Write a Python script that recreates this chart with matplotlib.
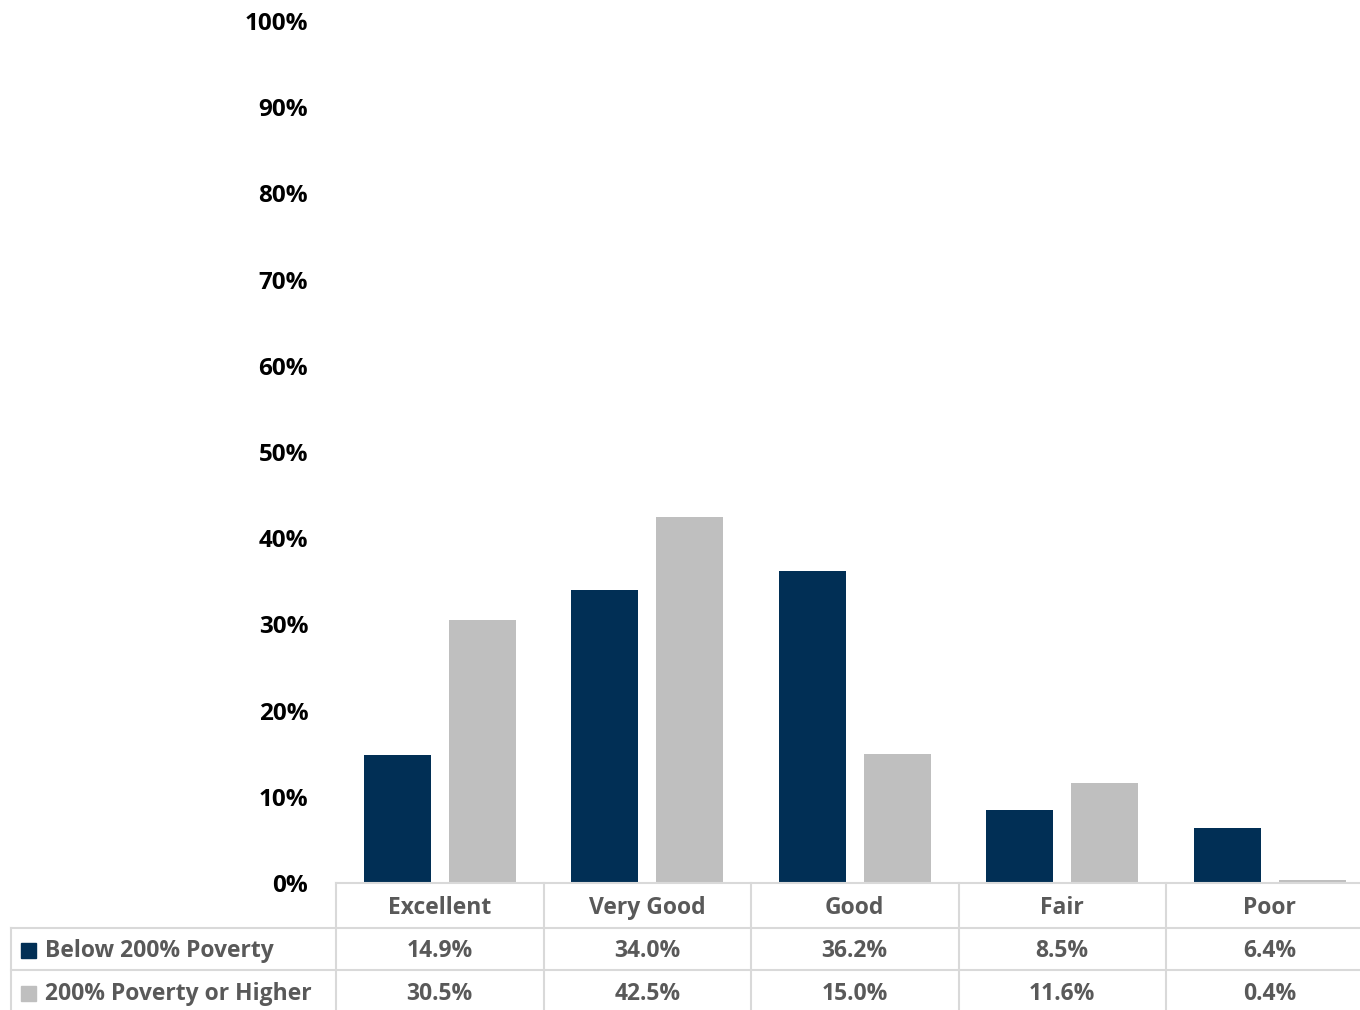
import matplotlib

matplotlib.use("Agg")
import matplotlib.pyplot as plt
from matplotlib.lines import Line2D
from matplotlib.patches import Rectangle
from matplotlib.transforms import blended_transform_factory

categories = ["Excellent", "Very Good", "Good", "Fair", "Poor"]
series_names = ["Below 200% Poverty", "200% Poverty or Higher"]
below_200 = [14.9, 34.0, 36.2, 8.5, 6.4]
above_200 = [30.5, 42.5, 15.0, 11.6, 0.4]
y_ticks = list(range(0, 101, 10))

DARK = "#012F55"
GREY = "#BFBFBF"
LINE = "#D9D9D9"
TEXT = "#595959"

plt.rcParams["font.family"] = ["Open Sans", "DejaVu Sans"]

W, H = 1360, 1010
fig = plt.figure(figsize=(W / 100, H / 100), dpi=100)


def fx(px):
    return px / W


def fy(py):
    return 1 - py / H


ax = fig.add_axes([fx(336), fy(883), fx(1373.5) - fx(336), fy(21) - fy(883)])

x = list(range(len(categories)))
bw = 0.323
off = 0.205
ax.bar([i - off for i in x], below_200, width=bw, color=DARK, zorder=2)
ax.bar([i + off for i in x], above_200, width=bw, color=GREY, zorder=2)

ax.set_xlim(-0.5, len(categories) - 0.5)
ax.set_ylim(0, 100)
ax.set_yticks(y_ticks)
ax.set_yticklabels([f"{t}%" for t in y_ticks], fontsize=17.5, fontweight="bold", color="black")
ax.tick_params(axis="y", length=0, pad=20)
ax.set_xticks([])
for s in ["top", "right", "left"]:
    ax.spines[s].set_visible(False)
ax.spines["bottom"].set_color(LINE)
ax.spines["bottom"].set_linewidth(1.5)

# data table under the plot
tr = blended_transform_factory(ax.transData, fig.transFigure)
lw = 1.5
for b in [i - 0.5 for i in range(len(categories) + 1)]:
    fig.add_artist(Line2D([b, b], [fy(883), fy(1015)], transform=tr, color=LINE, lw=lw, clip_on=False))
for row_y in [928, 970]:
    fig.add_artist(Line2D([fx(11), fx(1373.5)], [fy(row_y), fy(row_y)], color=LINE, lw=lw))
fig.add_artist(Line2D([fx(11), fx(11)], [fy(928), fy(1015)], color=LINE, lw=lw))

fs = 16.5
for i, cat in enumerate(categories):
    fig.text(i, fy(908), cat, transform=tr, ha="center", va="center",
             fontsize=fs, fontweight="bold", color=TEXT)

rows = [below_200, above_200]
row_colors = [DARK, GREY]
row_centers = [951, 994]
for name, vals, col, cy in zip(series_names, rows, row_colors, row_centers):
    fig.add_artist(Rectangle((fx(21), fy(cy + 7)), fx(15), fy(cy - 8) - fy(cy + 7),
                             color=col, transform=fig.transFigure))
    fig.text(fx(45), fy(cy), name, ha="left", va="center",
             fontsize=fs, fontweight="bold", color=TEXT)
    for i, v in enumerate(vals):
        fig.text(i, fy(cy), f"{v:.1f}%", transform=tr, ha="center", va="center",
                 fontsize=fs, fontweight="bold", color=TEXT)

fig.savefig("out.png", dpi=100)
